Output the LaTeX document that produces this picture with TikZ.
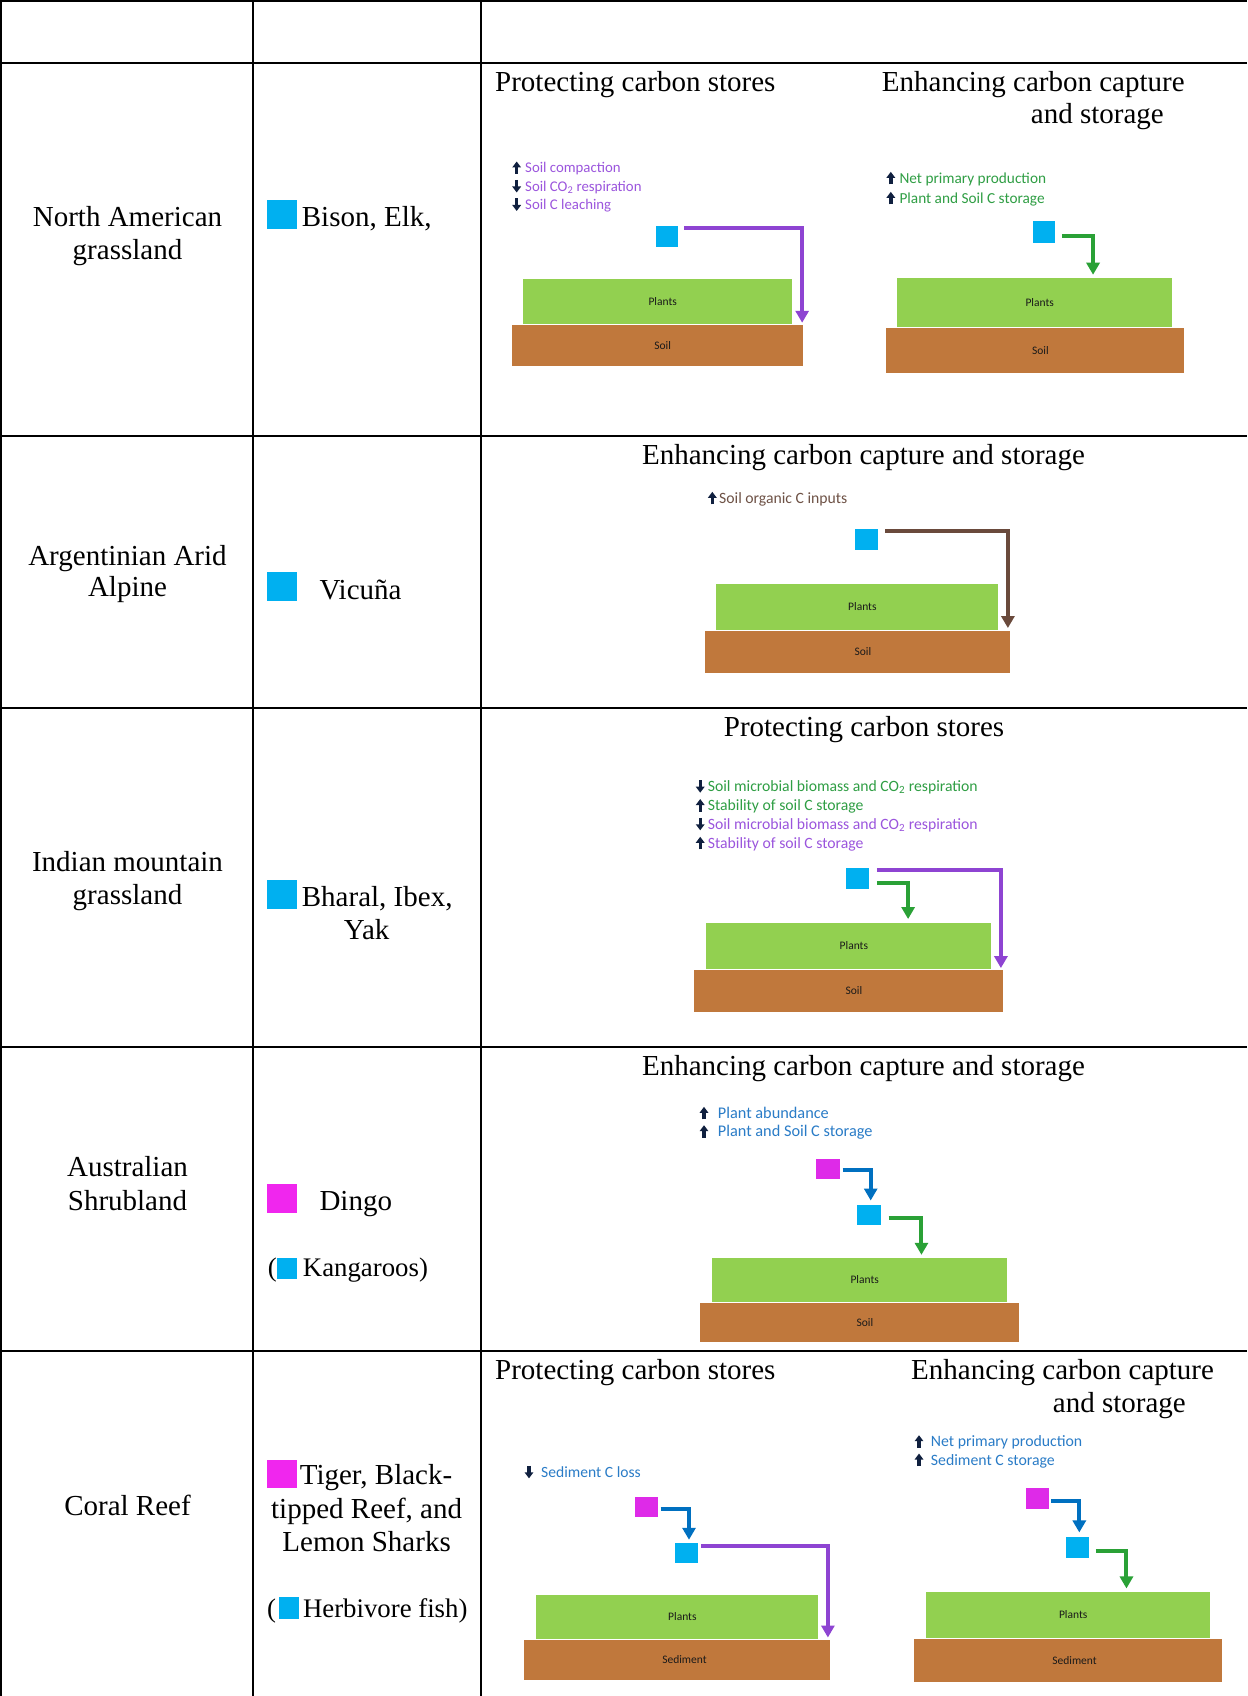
\documentclass[tikz,border=0pt]{standalone}
\usepackage{fontspec}
\setmainfont{Liberation Serif}
\newfontfamily\calfont{Carlito}
\usetikzlibrary{arrows.meta,calc}
\definecolor{cyansq}{HTML}{00B0F0}
\definecolor{magcol}{HTML}{F026EE}
\definecolor{magsq}{HTML}{DE2AE8}
\definecolor{plantg}{HTML}{92D050}
\definecolor{soilc}{HTML}{C0783C}
\definecolor{purpc}{HTML}{8E44D2}
\definecolor{purptxt}{HTML}{9B55DD}
\definecolor{greenc}{HTML}{2AA136}
\definecolor{greentxt}{HTML}{2F9E44}
\definecolor{brownc}{HTML}{6A4A3C}
\definecolor{browntxt}{HTML}{6E5246}
\definecolor{bluec}{HTML}{0070C0}
\definecolor{bluetxt}{HTML}{2A7CC7}
\definecolor{glyc}{HTML}{10203F}
\definecolor{txtdark}{HTML}{1A1A1A}
\newcommand\labsize{14.7}
\tikzset{
  ser/.style={font=\fontsize{29}{34}\selectfont, inner sep=0pt, text=black},
  sersm/.style={font=\fontsize{26.8}{32}\selectfont, inner sep=0pt, text=black, anchor=base west},
  serbw/.style={ser, anchor=base west},
  serb/.style={ser, anchor=base},
  lab/.style={font=\calfont\fontsize{\labsize}{18}\selectfont, inner sep=0pt, anchor=base west},
  gly/.style={line width=3.4pt, draw=glyc, -{Triangle[width=8.5pt,length=6pt]}},
  layer/.style={inner sep=0pt, font=\calfont\fontsize{11.5}{13}\selectfont, text=txtdark},
  plantbox/.style={layer, fill=plantg},
  soilbox/.style={layer, fill=soilc},
  csq/.style={inner sep=0pt, fill=cyansq},
  msq/.style={inner sep=0pt, fill=magsq},
  conn/.style={line width=4pt, line join=miter, -{Triangle[width=13pt,length=12pt]}},
  grid/.style={line width=2pt, draw=black}
}
\newcommand\lblup[6]{\node[lab,text=#5] (#1) at (#2,#3) {#6};
  \draw[gly] ($(#1.base west)+(-#4,1)$) -- ++(0,-12.5);}
\newcommand\lbldn[6]{\node[lab,text=#5] (#1) at (#2,#3) {#6};
  \draw[gly] ($(#1.base west)+(-#4,-11.5)$) -- ++(0,12.5);}
\newcommand\sh[1]{\hspace*{10.8pt}#1}
\begin{document}
\begin{tikzpicture}[x=1pt,y=-1pt]
\useasboundingbox (0,0) rectangle (1247,1696);
\fill[white] (0,0) rectangle (1247,1696);
% grid
\draw[grid] (1,0) -- (1,1696);
\draw[grid] (253,0) -- (253,1696);
\draw[grid] (481,0) -- (481,1696);
\draw[grid] (0,1) -- (1247,1);
\draw[grid] (0,63) -- (1247,63);
\draw[grid] (0,436) -- (1247,436);
\draw[grid] (0,708) -- (1247,708);
\draw[grid] (0,1047) -- (1247,1047);
\draw[grid] (0,1351) -- (1247,1351);

% ---------- left column ----------
\node[serb] (r1a) at (127.5,226.5) {North American};
\node[serb] (r1b) at (127.5,259) {grassland};
\node[serb] (r2a) at (127.5,565) {Argentinian Arid};
\node[serb] (r2b) at (127.5,596.7) {Alpine};
\node[serb] (r3a) at (127.5,871.7) {Indian mountain};
\node[serb] (r3b) at (127.5,904) {grassland};
\node[serb] (r4a) at (127.5,1176.7) {Australian};
\node[serb] (r4b) at (127.5,1210) {Shrubland};
\node[serb] (r5a) at (127.5,1515) {Coral Reef};

% ---------- species column ----------
\node[csq, minimum width=29.7pt, minimum height=28.7pt] (c1sq) at (281.8,214.3) {};
\node[serbw] (c1t) at (301.7,226.7) {Bison, Elk,};
\node[csq, minimum width=29.7pt, minimum height=28.7pt] (c2sq) at (281.8,586.3) {};
\node[serbw] (c2t) at (319.3,599.3) {Vicuña};
\node[csq, minimum width=29.7pt, minimum height=28.7pt] (c3sq) at (281.8,894.3) {};
\node[serbw] (c3t) at (301.7,906.7) {Bharal, Ibex,};
\node[serb] (c3u) at (366.7,939.3) {Yak};
\node[inner sep=0pt, fill=magcol, minimum width=29.7pt, minimum height=28.7pt] (c4sq) at (281.8,1198.3) {};
\node[serbw] (c4t) at (319.3,1210) {Dingo};
\node[sersm] (c4p) at (267.7,1276) {(};
\node[csq, minimum width=20pt, minimum height=21pt] (c4sq2) at (286.7,1268.7) {};
\node[sersm] (c4k) at (302.7,1276) {Kangaroos)};
\node[inner sep=0pt, fill=magcol, minimum width=30pt, minimum height=28pt] (c5sq) at (282.2,1474) {};
\node[serbw] (c5t) at (299.6,1484) {Tiger, Black-};
\node[serb] (c5u) at (366.6,1518) {tipped Reef, and};
\node[serb] (c5v) at (366.6,1551) {Lemon Sharks};
\node[sersm] (c5p) at (267,1617) {(};
\node[csq, minimum width=19.5pt, minimum height=22pt] (c5sq2) at (288.8,1608) {};
\node[sersm] (c5h) at (302.8,1617) {Herbivore fish)};

% ---------- Panel 1 left ----------
\node[serbw] (h1l) at (495,92) {Protecting carbon stores};
\renewcommand\labsize{14.8}
\lblup{l1a}{525}{173}{8.3}{purptxt}{Soil compaction}
\lbldn{l1b}{525}{191.5}{8.3}{purptxt}{Soil CO\textsubscript{2} respiration}
\lbldn{l1c}{525}{210}{8.3}{purptxt}{Soil C leaching}
\node[csq, minimum width=22pt, minimum height=21pt] (sq1) at (667,236.3) {};
\node[plantbox, minimum width=269.3pt, minimum height=45pt] (pl1) at (657.3,301.5) {\sh{Plants}};
\node[soilbox, minimum width=291.3pt, minimum height=40.7pt] (so1) at (657.3,345.3) {\sh{Soil}};
\draw[conn,purpc] ($(sq1.north east)+(6,2.5)$) -| ($(so1.north east)+(-1,-2)$);

% ---------- Panel 1 right ----------
\node[serbw] (h1r) at (881.7,92) {Enhancing carbon capture};
\node[serbw] (h1r2) at (1030.7,123.3) {and storage};
\renewcommand\labsize{15.3}
\lblup{l2a}{899.3}{183.3}{8.5}{greentxt}{Net primary production}
\lblup{l2b}{899.3}{203.3}{8.5}{greentxt}{Plant and Soil C storage}
\node[csq, minimum width=22pt, minimum height=21.7pt] (sq2) at (1044,231.8) {};
\node[plantbox, minimum width=275.3pt, minimum height=48.7pt] (pl2) at (1034.3,302.3) {\sh{Plants}};
\node[soilbox, minimum width=298pt, minimum height=44.7pt] (so2) at (1035,350.3) {\sh{Soil}};
\draw[conn,greenc] ($(sq2.east)+(6.7,4)$) -| ($(pl2.north west)+(196.6,-3)$);

% ---------- Panel 2 ----------
\node[serb] (h2) at (863.5,464) {Enhancing carbon capture and storage};
\renewcommand\labsize{15.7}
\lblup{l3a}{719}{503.3}{6.7}{browntxt}{Soil organic C inputs}
\node[csq, minimum width=22.7pt, minimum height=20.7pt] (sq3) at (866.3,539.3) {};
\node[plantbox, minimum width=282pt, minimum height=45.7pt] (pl3) at (857,606.8) {\sh{Plants}};
\node[soilbox, minimum width=305pt, minimum height=41.7pt] (so3) at (857.5,651.8) {\sh{Soil}};
\draw[conn,brownc] ($(sq3.north east)+(7.3,2)$) -| ($(so3.north east)+(-2.3,-2.7)$);

% ---------- Panel 3 ----------
\node[serb] (h3) at (864,736) {Protecting carbon stores};
\renewcommand\labsize{15.7}
\lbldn{l4a}{707.7}{791.7}{7.5}{greentxt}{Soil microbial biomass and CO\textsubscript{2} respiration}
\lblup{l4b}{707.7}{810.5}{7.5}{greentxt}{Stability of soil C storage}
\lbldn{l4c}{707.7}{829.3}{7.5}{purptxt}{Soil microbial biomass and CO\textsubscript{2} respiration}
\lblup{l4d}{707.7}{848.3}{7.5}{purptxt}{Stability of soil C storage}
\node[csq, minimum width=23pt, minimum height=20.7pt] (sq4) at (857.5,878.3) {};
\node[plantbox, minimum width=285pt, minimum height=45.7pt] (pl4) at (848.5,945.8) {\sh{Plants}};
\node[soilbox, minimum width=309pt, minimum height=42pt] (so4) at (848.5,991) {\sh{Soil}};
\draw[conn,purpc] ($(sq4.north east)+(7.7,2)$) -| ($(so4.north east)+(-2.3,-1.7)$);
\draw[conn,greenc] ($(sq4.east)+(7.7,5)$) -| ($(pl4.north west)+(202.3,-3.7)$);

% ---------- Panel 4 ----------
\node[serb] (h4) at (863.5,1075) {Enhancing carbon capture and storage};
\renewcommand\labsize{16.3}
\lblup{l5a}{717.7}{1118.3}{13.7}{bluetxt}{Plant abundance}
\lblup{l5b}{717.7}{1136.7}{13.7}{bluetxt}{Plant and Soil C storage}
\node[msq, minimum width=24pt, minimum height=20pt] (msq1) at (828,1169) {};
\node[csq, minimum width=24pt, minimum height=20pt] (bsq1) at (869,1215) {};
\node[plantbox, minimum width=295.3pt, minimum height=44pt] (pl5) at (859.3,1280) {\sh{Plants}};
\node[soilbox, minimum width=319pt, minimum height=39pt] (so5) at (859.5,1322.5) {\sh{Soil}};
\draw[conn,bluec] ($(msq1.east)+(2.3,1)$) -| ($(bsq1.north)+(1.7,-4.3)$);
\draw[conn,greenc] ($(bsq1.east)+(7.3,3.3)$) -| ($(pl5.north west)+(210,-3)$);

% ---------- Panel 5 left ----------
\node[serbw] (h5l) at (495,1379.3) {Protecting carbon stores};
\renewcommand\labsize{15.6}
\lbldn{l6a}{541}{1477.3}{12}{bluetxt}{Sediment C loss}
\node[msq, minimum width=22.7pt, minimum height=19.7pt] (msq2) at (646.3,1506.8) {};
\node[csq, minimum width=23pt, minimum height=19.7pt] (bsq2) at (686.5,1552.8) {};
\node[plantbox, minimum width=282pt, minimum height=43.7pt] (pl6) at (677,1616.8) {\sh{Plants}};
\node[soilbox, minimum width=306pt, minimum height=40pt] (se1) at (677,1660) {\hspace*{15pt}Sediment};
\draw[conn,bluec] ($(msq2.east)+(2.7,2.5)$) -| ($(bsq2.north)+(2.5,-3)$);
\draw[conn,purpc] ($(bsq2.north east)+(2.7,3.7)$) -| ($(se1.north east)+(-2.3,-2.3)$);

% ---------- Panel 5 right ----------
\node[serbw] (h5r) at (911,1379.3) {Enhancing carbon capture};
\node[serbw] (h5r2) at (1052.7,1412.7) {and storage};
\renewcommand\labsize{15.8}
\lblup{l7a}{930.7}{1446.7}{11.7}{bluetxt}{Net primary production}
\lblup{l7b}{930.7}{1465}{11.7}{bluetxt}{Sediment C storage}
\node[msq, minimum width=23pt, minimum height=21pt] (msq3) at (1037.5,1498.5) {};
\node[csq, minimum width=23pt, minimum height=20.7pt] (bsq3) at (1077.5,1547.3) {};
\node[plantbox, minimum width=284.3pt, minimum height=45.7pt] (pl7) at (1067.8,1614.8) {\sh{Plants}};
\node[soilbox, minimum width=308pt, minimum height=42.7pt] (se2) at (1068,1660.3) {\hspace*{13pt}Sediment};
\draw[conn,bluec] ($(msq3.east)+(2,2.2)$) -| ($(bsq3.north)+(1.8,-4.3)$);
\draw[conn,greenc] ($(bsq3.east)+(6.7,3.4)$) -| ($(pl7.north west)+(201,-3.3)$);
\end{tikzpicture}
\end{document}
